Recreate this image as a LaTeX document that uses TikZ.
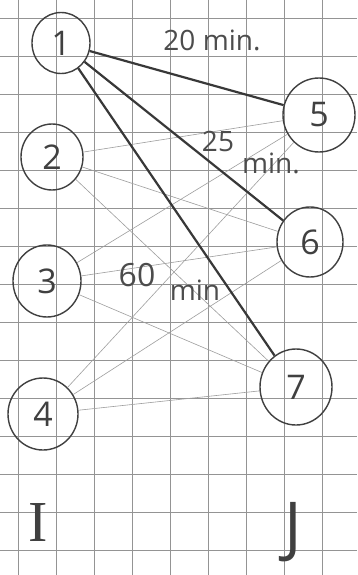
\documentclass[tikz,border=0pt]{standalone}
\usepackage{fontspec}
\setmainfont{Open Sans}
\newfontfamily\serifI{Liberation Serif}
\usetikzlibrary{shapes.geometric}
\begin{document}
\begin{tikzpicture}[x=1pt,y=-1pt,
  vert/.style={draw=black!75, line width=1.4pt, ellipse, inner sep=0pt,
    font=\fontsize{34}{34}\selectfont, text=black!75},
  heavy/.style={draw=black!78, line width=2.2pt},
  light/.style={draw=black!38, line width=0.6pt},
  gridline/.style={draw=black!42, line width=0.9pt},
  lbl/.style={font=\fontsize{28}{28}\selectfont, text=black!70, inner sep=0pt}]
\useasboundingbox (0,0) rectangle (357,575);
\fill[white] (0,0) rectangle (357,575);
\foreach \i in {0,...,9} \draw[gridline] (18+38*\i,0) -- (18+38*\i,575);
\foreach \j in {0,...,14} \draw[gridline] (0,18+38*\j) -- (357,18+38*\j);
% vertices
\node[vert, minimum width=58pt, minimum height=61pt] (n1) at (61,43) {1};
\node[vert, minimum width=62pt, minimum height=66pt] (n2) at (52,157) {2};
\node[vert, minimum width=68pt, minimum height=72pt] (n3) at (47,281) {3};
\node[vert, minimum width=70pt, minimum height=72pt] (n4) at (43,414) {4};
\node[vert, minimum width=72pt, minimum height=74pt] (n5) at (319,115) {5};
\node[vert, minimum width=66pt, minimum height=70pt] (n6) at (310,242) {6};
\node[vert, minimum width=72pt, minimum height=76pt] (n7) at (296,387) {7};
% light edges
\foreach \a in {n2,n3,n4} \foreach \b in {n5,n6,n7} \draw[light] (\a) -- (\b);
% heavy edges
\draw[heavy] (n1) -- (n5);
\draw[heavy] (n1) -- (n6);
\draw[heavy] (n1) -- (n7);
% labels
\node[lbl] (t20) at (212,40) {20 min.};
\node[lbl] (t25) at (218,141) {25};
\node[lbl] (t25m) at (271,163) {min.};
\node[lbl, font=\fontsize{32}{32}\selectfont] (t60) at (137,275) {60};
\node[lbl] (t60m) at (195,290) {min};
\node[font=\serifI\fontsize{58}{58}\selectfont, text=black!75, inner sep=0pt] (sI) at (38,523) {I};
\node[font=\fontsize{66}{66}\selectfont, text=black!75, inner sep=0pt] (sJ) at (293,532) {J};
\end{tikzpicture}
\end{document}
